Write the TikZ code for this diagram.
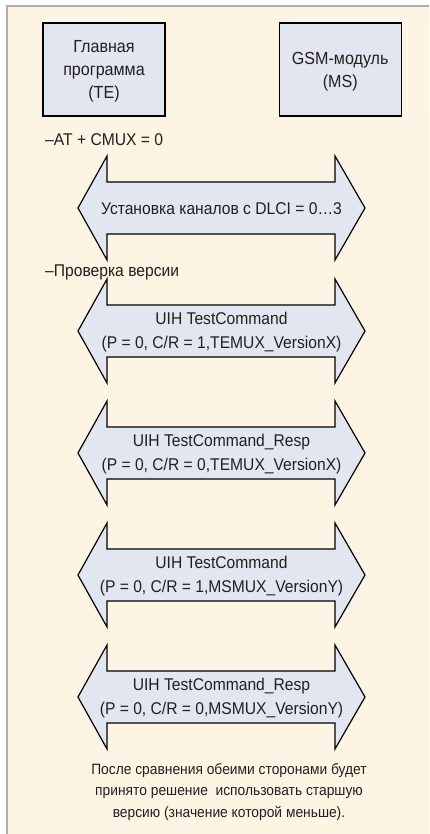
\documentclass[tikz,border=0pt]{standalone}
\usepackage{fontspec}
\setmainfont{Liberation Sans}[FakeStretch=0.92]
\usetikzlibrary{positioning}

\definecolor{paper}{HTML}{FDF4E3}
\definecolor{boxfill}{HTML}{E2E6F0}
\definecolor{framegray}{HTML}{AEAEAE}
\definecolor{ink}{HTML}{231F20}

\begin{document}
\begin{tikzpicture}[x=1pt, y=-1pt,
    box/.style={draw=black, line width=1.2pt, fill=boxfill, inner sep=0pt,
        minimum width=122pt, minimum height=93pt},
    boxtext/.style={align=center, text=ink, inner sep=0pt,
        font=\fontsize{17.5}{23}\selectfont},
    dblarrow/.style={draw=black, line width=1.2pt, fill=boxfill, line join=miter},
    msgtext/.style={align=center, text=ink, inner sep=0pt,
        font=\fontsize{17}{24}\selectfont},
    note/.style={anchor=base west, text=ink, inner sep=0pt,
        font=\fontsize{17}{20}\selectfont}]
    \useasboundingbox (0,0) rectangle (429,834);

    %%%%%%%%%%%%%%%%%%%%%%%%%%%%%%
    \fill[paper] (6,5) rectangle (429,834);
    \draw[framegray, line width=2pt] (7,834) -- (7,6) -- (429,6);

    %%%%%%%%%%%%%%%%%%%%%%%%%%%%%%
    \node[box] (te) at (104,69.5) {};
    \node[box, right=113pt of te] (ms) {};
    \node[boxtext] (telabel) at ([yshift=-2pt]te.center) {Главная\\программа\\(TE)};
    \node[boxtext] (mslabel) at ([yshift=-2pt]ms.center) {GSM-модуль\\(MS)};

    \node[note] (cmux) at (45,146) {–AT + CMUX = 0};
    \node[note] (check) at (45,276) {–Проверка версии};

    %%%%%%%%%%%%%%%%%%%%%%%%%%%%%%
    \foreach \yy/\msg [count=\k] in {
        208/{Установка каналов с DLCI = 0…3},
        331/{UIH TestCommand\\(P = 0, C/R = 1,TEMUX\_VersionX)},
        453/{UIH TestCommand\_Resp\\(P = 0, C/R = 0,TEMUX\_VersionX)},
        575/{UIH TestCommand\\(P = 0, C/R = 1,MSMUX\_VersionY)},
        697/{UIH TestCommand\_Resp\\(P = 0, C/R = 0,MSMUX\_VersionY)}} {
        \draw[dblarrow] (78,\yy) -- ++(29,-52) -- ++(0,26) -- ++(228,0)
            -- ++(0,-26) -- ++(30,52) -- ++(-30,52) -- ++(0,-26)
            -- ++(-228,0) -- ++(0,26) -- cycle;
        \node[msgtext] (msg\k) at (221.5,\yy+1) {\msg};
    }

    %%%%%%%%%%%%%%%%%%%%%%%%%%%%%%
    \node[msgtext, font=\fontsize{15}{21.5}\selectfont] (result) at (229,792)
        {После сравнения обеими сторонами будет\\
         принято решение \ использовать старшую\\
         версию (значение которой меньше).};
\end{tikzpicture}
\end{document}
